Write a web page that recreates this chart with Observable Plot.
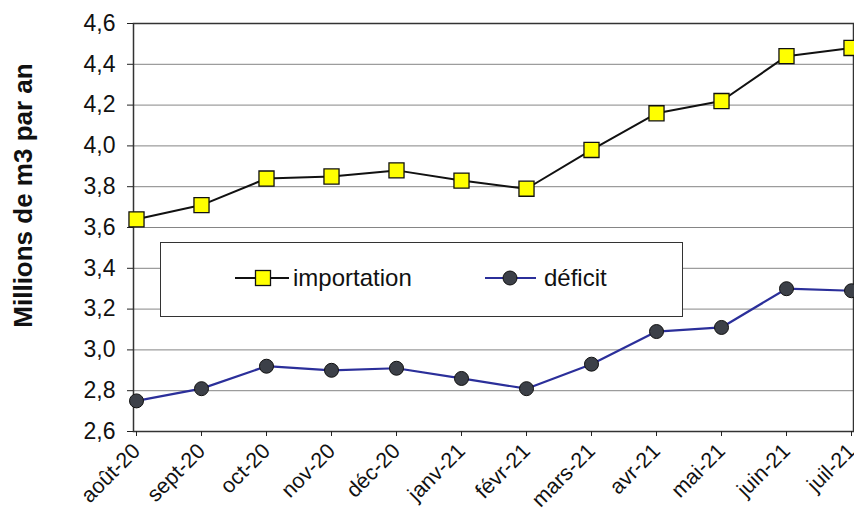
<!DOCTYPE html>
<html><head><meta charset="utf-8">
<script src="https://cdn.jsdelivr.net/npm/d3@7"></script>
<script src="https://cdn.jsdelivr.net/npm/@observablehq/plot@0.6"></script>
<style>
body{margin:0;background:#fff;font-family:"Liberation Sans",Arial,sans-serif;}
#wrap{position:relative;width:854px;height:511px;overflow:hidden;}
#legend{position:absolute;left:160px;top:242px;width:523px;height:75px;border:1.5px solid #333;background:#fff;box-sizing:border-box;font-size:24px;color:#111;}
.item{position:absolute;top:21px;height:28px;display:flex;align-items:center;line-height:28px;}
</style></head>
<body><div id="wrap"></div>
<script>
const months = ["août-20","sept-20","oct-20","nov-20","déc-20","janv-21","févr-21","mars-21","avr-21","mai-21","juin-21","juil-21"];
const importation = [3.64,3.71,3.84,3.85,3.88,3.83,3.79,3.98,4.16,4.22,4.44,4.48];
const deficit = [2.75,2.81,2.92,2.90,2.91,2.86,2.81,2.93,3.09,3.11,3.30,3.29];
const yTicks = [2.6,2.8,3.0,3.2,3.4,3.6,3.8,4.0,4.2,4.4,4.6];
const seriesNames = ["importation","déficit"];

const imp = months.map((m,i)=>({m, v: importation[i]}));
const def = months.map((m,i)=>({m, v: deficit[i]}));
const fmt = d => d.toFixed(1).replace(".", ",");

const chart = Plot.plot({
  width: 854, height: 511,
  marginLeft: 133, marginRight: 1, marginTop: 23, marginBottom: 80,
  style: {fontFamily: "Liberation Sans, Arial, sans-serif", color: "#111", background: "#fff", overflow: "visible"},
  x: {type: "point", domain: months, padding: 0},
  y: {domain: [2.6, 4.6]},
  marks: [
    Plot.gridY(yTicks, {stroke: "#666", strokeOpacity: 0.8, strokeWidth: 1}),
    Plot.frame({stroke: "#333", strokeWidth: 1.5}),
    Plot.axisY(yTicks, {tickFormat: fmt, fontSize: 23, tickSize: 6, tickPadding: 12, label: null, stroke: "#222"}),
    Plot.axisX({fontSize: 21.5, tickSize: 5, tickRotate: -45, tickPadding: 11, label: null, stroke: "#222"}),
    Plot.text(["Millions de m3 par an"], {frameAnchor: "left", textAnchor: "middle", dx: -110, dy: -32, rotate: -90, fontSize: 26, fontWeight: "bold", fill: "#111"}),
    Plot.line(def, {x: "m", y: "v", stroke: "#2b2f9a", strokeWidth: 2.2}),
    Plot.dot(def, {x: "m", y: "v", r: 7, fill: "#3c4048", stroke: "#111", strokeWidth: 1}),
    Plot.line(imp, {x: "m", y: "v", stroke: "#111", strokeWidth: 2}),
    Plot.dot(imp, {x: "m", y: "v", symbol: "square", r: 8.5, fill: "#ffff00", stroke: "#111", strokeWidth: 1.3})
  ]
});
const wrap = document.getElementById("wrap");
wrap.appendChild(chart);

const legend = document.createElement("div");
legend.id = "legend";
legend.innerHTML =
 `<div class="item" style="left:74px"><svg width="54" height="24"><line x1="0" y1="12" x2="54" y2="12" stroke="#111" stroke-width="2"/><rect x="20.5" y="4.5" width="15" height="15" fill="#ffff00" stroke="#111" stroke-width="1.3"/></svg><span style="margin-left:4px">${seriesNames[0]}</span></div>` +
 `<div class="item" style="left:324px"><svg width="51" height="24"><line x1="0" y1="12" x2="51" y2="12" stroke="#2b2f9a" stroke-width="2.2"/><circle cx="25" cy="12" r="7" fill="#3c4048" stroke="#111"/></svg><span style="margin-left:8px">${seriesNames[1]}</span></div>`;
wrap.appendChild(legend);
</script></body></html>
